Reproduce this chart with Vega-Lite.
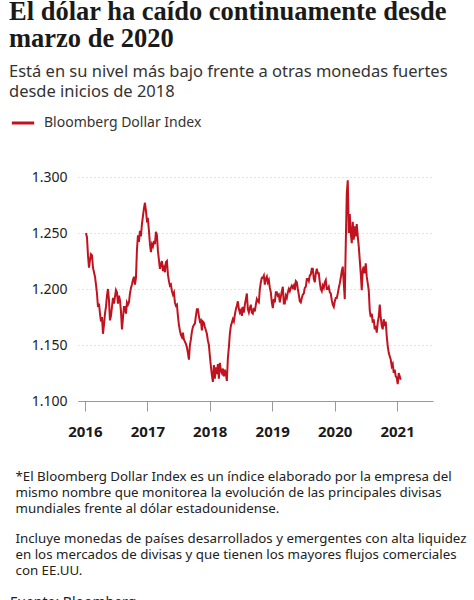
{
"$schema":"https://vega.github.io/schema/vega-lite/v6.json",
"width":355,"height":224,
"autosize":{"type":"none"},
"padding":{"left":78,"top":177,"right":41,"bottom":199},
"background":"white",
"title":{"text":["El dólar ha caído continuamente desde","marzo de 2020"],
"subtitle":["Está en su nivel más bajo frente a otras monedas fuertes","desde inicios de 2018"],
"anchor":"start","frame":"group","dx":-69,
"font":"Liberation Serif","fontSize":26.5,"fontWeight":"bold","color":"#1a1a1a","lineHeight":27,
"subtitleFont":"Noto Sans","subtitleFontSize":16.5,"subtitleColor":"#333333","subtitleLineHeight":20,"subtitlePadding":11,"offset":10},
"data":{"values":[
{"a":2016.018,"v":1.250},{"a":2016.034,"v":1.246},{"a":2016.050,"v":1.230},{"a":2016.066,"v":1.219},{"a":2016.082,"v":1.226},{"a":2016.098,"v":1.231},{"a":2016.114,"v":1.230},{"a":2016.130,"v":1.219},{"a":2016.146,"v":1.215},{"a":2016.162,"v":1.211},
{"a":2016.178,"v":1.204},{"a":2016.194,"v":1.196},{"a":2016.210,"v":1.184},{"a":2016.226,"v":1.187},{"a":2016.242,"v":1.178},{"a":2016.258,"v":1.171},{"a":2016.274,"v":1.175},{"a":2016.290,"v":1.160},{"a":2016.306,"v":1.168},{"a":2016.322,"v":1.178},
{"a":2016.338,"v":1.184},{"a":2016.354,"v":1.194},{"a":2016.370,"v":1.200},{"a":2016.386,"v":1.190},{"a":2016.402,"v":1.172},{"a":2016.418,"v":1.176},{"a":2016.434,"v":1.184},{"a":2016.450,"v":1.192},{"a":2016.466,"v":1.187},{"a":2016.482,"v":1.193},
{"a":2016.498,"v":1.199},{"a":2016.514,"v":1.197},{"a":2016.530,"v":1.187},{"a":2016.546,"v":1.194},{"a":2016.562,"v":1.190},{"a":2016.578,"v":1.180},{"a":2016.594,"v":1.164},{"a":2016.610,"v":1.174},{"a":2016.626,"v":1.184},{"a":2016.642,"v":1.184},
{"a":2016.658,"v":1.178},{"a":2016.674,"v":1.188},{"a":2016.690,"v":1.186},{"a":2016.706,"v":1.188},{"a":2016.722,"v":1.196},{"a":2016.738,"v":1.201},{"a":2016.754,"v":1.204},{"a":2016.770,"v":1.208},{"a":2016.786,"v":1.211},{"a":2016.802,"v":1.204},
{"a":2016.818,"v":1.210},{"a":2016.834,"v":1.235},{"a":2016.850,"v":1.248},{"a":2016.866,"v":1.242},{"a":2016.882,"v":1.252},{"a":2016.898,"v":1.247},{"a":2016.914,"v":1.258},{"a":2016.930,"v":1.265},{"a":2016.946,"v":1.272},{"a":2016.962,"v":1.277},
{"a":2016.978,"v":1.270},{"a":2016.994,"v":1.261},{"a":2017.010,"v":1.262},{"a":2017.026,"v":1.252},{"a":2017.042,"v":1.240},{"a":2017.058,"v":1.233},{"a":2017.074,"v":1.240},{"a":2017.090,"v":1.238},{"a":2017.106,"v":1.243},{"a":2017.122,"v":1.240},
{"a":2017.138,"v":1.251},{"a":2017.154,"v":1.248},{"a":2017.170,"v":1.234},{"a":2017.186,"v":1.226},{"a":2017.202,"v":1.218},{"a":2017.218,"v":1.222},{"a":2017.234,"v":1.225},{"a":2017.250,"v":1.216},{"a":2017.266,"v":1.219},{"a":2017.282,"v":1.215},
{"a":2017.298,"v":1.224},{"a":2017.314,"v":1.225},{"a":2017.330,"v":1.213},{"a":2017.346,"v":1.207},{"a":2017.362,"v":1.203},{"a":2017.378,"v":1.204},{"a":2017.394,"v":1.198},{"a":2017.410,"v":1.195},{"a":2017.426,"v":1.197},{"a":2017.442,"v":1.188},
{"a":2017.458,"v":1.185},{"a":2017.474,"v":1.186},{"a":2017.490,"v":1.176},{"a":2017.506,"v":1.168},{"a":2017.522,"v":1.163},{"a":2017.538,"v":1.159},{"a":2017.554,"v":1.157},{"a":2017.570,"v":1.161},{"a":2017.586,"v":1.155},{"a":2017.602,"v":1.153},
{"a":2017.618,"v":1.151},{"a":2017.634,"v":1.148},{"a":2017.650,"v":1.143},{"a":2017.666,"v":1.137},{"a":2017.682,"v":1.150},{"a":2017.698,"v":1.155},{"a":2017.714,"v":1.162},{"a":2017.730,"v":1.166},{"a":2017.746,"v":1.168},{"a":2017.762,"v":1.169},
{"a":2017.778,"v":1.176},{"a":2017.794,"v":1.182},{"a":2017.810,"v":1.182},{"a":2017.826,"v":1.176},{"a":2017.842,"v":1.171},{"a":2017.858,"v":1.172},{"a":2017.874,"v":1.163},{"a":2017.890,"v":1.171},{"a":2017.906,"v":1.170},{"a":2017.922,"v":1.166},
{"a":2017.938,"v":1.163},{"a":2017.954,"v":1.160},{"a":2017.970,"v":1.154},{"a":2017.986,"v":1.150},{"a":2018.002,"v":1.140},{"a":2018.018,"v":1.131},{"a":2018.034,"v":1.123},{"a":2018.050,"v":1.117},{"a":2018.066,"v":1.132},{"a":2018.082,"v":1.120},
{"a":2018.098,"v":1.130},{"a":2018.114,"v":1.124},{"a":2018.130,"v":1.133},{"a":2018.146,"v":1.120},{"a":2018.162,"v":1.134},{"a":2018.178,"v":1.127},{"a":2018.194,"v":1.125},{"a":2018.210,"v":1.129},{"a":2018.226,"v":1.122},{"a":2018.242,"v":1.128},
{"a":2018.258,"v":1.124},{"a":2018.274,"v":1.118},{"a":2018.290,"v":1.138},{"a":2018.306,"v":1.148},{"a":2018.322,"v":1.160},{"a":2018.338,"v":1.167},{"a":2018.354,"v":1.170},{"a":2018.370,"v":1.173},{"a":2018.386,"v":1.171},{"a":2018.402,"v":1.177},
{"a":2018.418,"v":1.182},{"a":2018.434,"v":1.185},{"a":2018.450,"v":1.189},{"a":2018.466,"v":1.182},{"a":2018.482,"v":1.179},{"a":2018.498,"v":1.181},{"a":2018.514,"v":1.176},{"a":2018.530,"v":1.184},{"a":2018.546,"v":1.179},{"a":2018.562,"v":1.186},
{"a":2018.578,"v":1.191},{"a":2018.594,"v":1.196},{"a":2018.610,"v":1.182},{"a":2018.626,"v":1.179},{"a":2018.642,"v":1.183},{"a":2018.658,"v":1.186},{"a":2018.674,"v":1.179},{"a":2018.690,"v":1.178},{"a":2018.706,"v":1.183},{"a":2018.722,"v":1.180},
{"a":2018.738,"v":1.186},{"a":2018.754,"v":1.191},{"a":2018.770,"v":1.189},{"a":2018.786,"v":1.188},{"a":2018.802,"v":1.200},{"a":2018.818,"v":1.206},{"a":2018.834,"v":1.210},{"a":2018.850,"v":1.210},{"a":2018.866,"v":1.212},{"a":2018.882,"v":1.204},
{"a":2018.898,"v":1.209},{"a":2018.914,"v":1.211},{"a":2018.930,"v":1.206},{"a":2018.946,"v":1.208},{"a":2018.962,"v":1.201},{"a":2018.978,"v":1.197},{"a":2018.994,"v":1.188},{"a":2019.010,"v":1.183},{"a":2019.026,"v":1.191},{"a":2019.042,"v":1.188},
{"a":2019.058,"v":1.197},{"a":2019.074,"v":1.197},{"a":2019.090,"v":1.194},{"a":2019.106,"v":1.195},{"a":2019.122,"v":1.188},{"a":2019.138,"v":1.193},{"a":2019.154,"v":1.198},{"a":2019.170,"v":1.202},{"a":2019.186,"v":1.187},{"a":2019.202,"v":1.187},
{"a":2019.218,"v":1.194},{"a":2019.234,"v":1.192},{"a":2019.250,"v":1.197},{"a":2019.266,"v":1.200},{"a":2019.282,"v":1.198},{"a":2019.298,"v":1.201},{"a":2019.314,"v":1.203},{"a":2019.330,"v":1.201},{"a":2019.346,"v":1.203},{"a":2019.362,"v":1.199},
{"a":2019.378,"v":1.207},{"a":2019.394,"v":1.206},{"a":2019.410,"v":1.200},{"a":2019.426,"v":1.195},{"a":2019.442,"v":1.189},{"a":2019.458,"v":1.188},{"a":2019.474,"v":1.192},{"a":2019.490,"v":1.195},{"a":2019.506,"v":1.196},{"a":2019.522,"v":1.201},
{"a":2019.538,"v":1.202},{"a":2019.554,"v":1.209},{"a":2019.570,"v":1.209},{"a":2019.586,"v":1.207},{"a":2019.602,"v":1.212},{"a":2019.618,"v":1.213},{"a":2019.634,"v":1.218},{"a":2019.650,"v":1.218},{"a":2019.666,"v":1.209},{"a":2019.682,"v":1.206},
{"a":2019.698,"v":1.214},{"a":2019.714,"v":1.218},{"a":2019.730,"v":1.214},{"a":2019.746,"v":1.214},{"a":2019.762,"v":1.206},{"a":2019.778,"v":1.200},{"a":2019.794,"v":1.198},{"a":2019.810,"v":1.203},{"a":2019.826,"v":1.201},{"a":2019.842,"v":1.206},
{"a":2019.858,"v":1.208},{"a":2019.874,"v":1.200},{"a":2019.890,"v":1.200},{"a":2019.906,"v":1.202},{"a":2019.922,"v":1.197},{"a":2019.938,"v":1.196},{"a":2019.954,"v":1.190},{"a":2019.970,"v":1.186},{"a":2019.986,"v":1.184},{"a":2020.002,"v":1.189},
{"a":2020.018,"v":1.192},{"a":2020.034,"v":1.192},{"a":2020.050,"v":1.196},{"a":2020.066,"v":1.201},{"a":2020.082,"v":1.205},{"a":2020.098,"v":1.210},{"a":2020.114,"v":1.216},{"a":2020.130,"v":1.220},{"a":2020.146,"v":1.205},{"a":2020.162,"v":1.191},
{"a":2020.178,"v":1.240},{"a":2020.194,"v":1.285},{"a":2020.210,"v":1.297},{"a":2020.226,"v":1.250},{"a":2020.242,"v":1.267},{"a":2020.258,"v":1.250},{"a":2020.274,"v":1.241},{"a":2020.290,"v":1.260},{"a":2020.306,"v":1.244},{"a":2020.322,"v":1.256},
{"a":2020.338,"v":1.247},{"a":2020.354,"v":1.258},{"a":2020.370,"v":1.247},{"a":2020.386,"v":1.238},{"a":2020.402,"v":1.226},{"a":2020.418,"v":1.214},{"a":2020.434,"v":1.199},{"a":2020.450,"v":1.217},{"a":2020.466,"v":1.220},{"a":2020.482,"v":1.214},
{"a":2020.498,"v":1.223},{"a":2020.514,"v":1.211},{"a":2020.530,"v":1.205},{"a":2020.546,"v":1.199},{"a":2020.562,"v":1.181},{"a":2020.578,"v":1.175},{"a":2020.594,"v":1.178},{"a":2020.610,"v":1.170},{"a":2020.626,"v":1.173},{"a":2020.642,"v":1.164},
{"a":2020.658,"v":1.167},{"a":2020.674,"v":1.161},{"a":2020.690,"v":1.170},{"a":2020.706,"v":1.175},{"a":2020.722,"v":1.186},{"a":2020.738,"v":1.175},{"a":2020.754,"v":1.167},{"a":2020.770,"v":1.164},{"a":2020.786,"v":1.173},{"a":2020.802,"v":1.167},
{"a":2020.818,"v":1.171},{"a":2020.834,"v":1.158},{"a":2020.850,"v":1.149},{"a":2020.866,"v":1.143},{"a":2020.882,"v":1.140},{"a":2020.898,"v":1.137},{"a":2020.914,"v":1.131},{"a":2020.930,"v":1.133},{"a":2020.946,"v":1.125},{"a":2020.962,"v":1.128},
{"a":2020.978,"v":1.122},{"a":2020.994,"v":1.121},{"a":2021.010,"v":1.115},{"a":2021.026,"v":1.125},{"a":2021.042,"v":1.122},{"a":2021.058,"v":1.119}
]},
"mark":{"type":"line","strokeWidth":2,"strokeJoin":"miter","clip":true},
"encoding":{
"x":{"field":"a","type":"quantitative",
"scale":{"domain":[2015.89,2021.575],"nice":false,"zero":false},
"axis":{"values":[2016,2017,2018,2019,2020,2021],"format":"d","grid":false,
"domainColor":"#999999","tickColor":"#999999","tickSize":10,"labelPadding":13,
"labelFont":"Noto Sans","labelFontSize":15,"labelFontWeight":"bold","labelColor":"#1a1a1a",
"title":["*El Bloomberg Dollar Index es un índice elaborado por la empresa del","mismo nombre que monitorea la evolución de las principales divisas","mundiales frente al dólar estadounidense."],
"titleAnchor":"start","titleAlign":"left","titleBaseline":"alphabetic","titleX":-63,"titleY":79,
"titleFont":"Noto Sans","titleFontSize":13.3,"titleFontWeight":"normal","titleColor":"#222222","titleLineHeight":16}},
"y":{"field":"v","type":"quantitative",
"scale":{"domain":[1.1,1.3],"nice":false,"zero":false},
"axis":{"values":[1.1,1.15,1.2,1.25,1.3],"format":".3f","domain":false,"ticks":false,"labelPadding":11,
"labelFont":"Noto Sans","labelFontSize":14,"labelColor":"#222222",
"gridColor":"#c8c8c8","gridDash":[1,3],"gridWidth":1,
"title":["Incluye monedas de países desarrollados y emergentes con alta liquidez","en los mercados de divisas y que tienen los mayores flujos comerciales","con EE.UU."],
"titleAngle":0,"titleAnchor":"start","titleAlign":"left","titleBaseline":"alphabetic","titleX":-63,"titleY":365.5,
"titleFont":"Noto Sans","titleFontSize":13.3,"titleFontWeight":"normal","titleColor":"#222222","titleLineHeight":16}},
"color":{"datum":"Bloomberg Dollar Index","type":"nominal","scale":{"range":["#c1131f"]},
"legend":{"orient":"none","legendX":-68,"legendY":-67,"title":"Fuente: Bloomberg","titleOrient":"bottom","titlePadding":466,"titleAnchor":"start","titleAlign":"left",
"titleFont":"Noto Sans","titleFontSize":14,"titleFontWeight":"normal","titleColor":"#222222",
"symbolType":"stroke","symbolSize":500,"symbolStrokeWidth":3,
"labelFont":"Noto Sans","labelFontSize":14,"labelColor":"#333333","labelOffset":8}}
},
"config":{"view":{"stroke":null}}
}
